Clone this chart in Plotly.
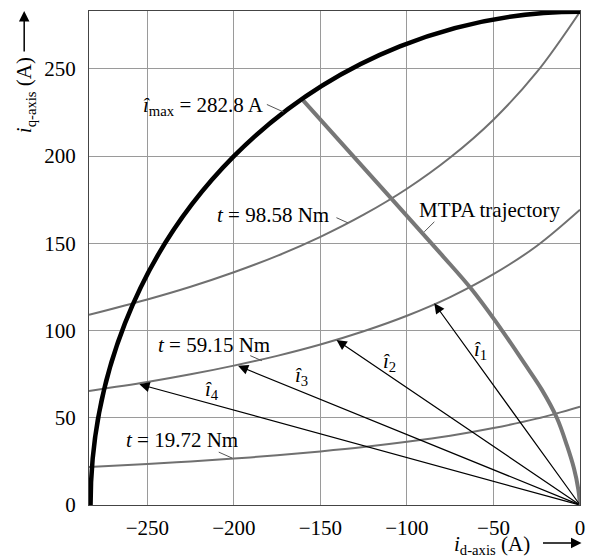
import plotly.graph_objects as go

# ---- data ----
i_max = 282.8
id_pts = [-283.7, -250, -225, -200, -175, -150, -125, -100, -75, -50, -25, 0]
iq_t98 = [109.0, 117.8, 125.1, 133.4, 142.8, 153.7, 166.4, 181.3, 199.2, 220.9, 248.1, 282.8]
iq_t59 = [65.4, 70.5, 74.9, 79.9, 85.5, 92.0, 99.6, 108.5, 119.2, 132.3, 148.5, 169.3]
iq_t20 = [21.8, 23.5, 25.0, 26.6, 28.5, 30.7, 33.2, 36.2, 39.7, 44.1, 49.5, 56.4]

mtpa_id = [0, -1.0, -3.5, -7.5, -13.4, -22.0, -32.0, -45.0, -62.5, -80.0, -108.2, -160.0]
mtpa_iq = [0, 9.0, 21.0, 34.0, 50.0, 66.0, 81.0, 100.0, 123.5, 143.5, 174.8, 232.0]

vec_id = [-84.2, -140.7, -197.6, -254.6]
vec_iq = [115.6, 94.6, 79.8, 69.2]
vec_names = ["1", "2", "3", "4"]
vec_lab_id = [-57.4, -110.1, -160.8, -212.5]
vec_lab_iq = [88.9, 82.2, 74.0, 66.0]

x_ticks = [-250, -200, -150, -100, -50, 0]
y_ticks = [0, 50, 100, 150, 200, 250]

FONT = "Liberation Serif"
FS = 21
GRAY = "#707070"

fig = go.Figure()
for ys in (iq_t98, iq_t59, iq_t20):
    fig.add_trace(go.Scatter(x=id_pts, y=ys, mode="lines",
                             line=dict(color=GRAY, width=2, shape="spline"),
                             hoverinfo="skip", showlegend=False))
fig.add_trace(go.Scatter(x=mtpa_id, y=mtpa_iq, mode="lines",
                         line=dict(color="#777777", width=4, shape="spline", smoothing=1.0),
                         hoverinfo="skip", showlegend=False))

# current limit circle
fig.add_shape(type="circle", xref="x", yref="y",
              x0=-i_max, y0=-i_max, x1=i_max, y1=i_max,
              line=dict(color="black", width=4.5), layer="above")

ann = []
# current vectors
for xi, yi in zip(vec_id, vec_iq):
    ann.append(dict(x=xi, y=yi, ax=0, ay=0, xref="x", yref="y", axref="x", ayref="y",
                    text="", showarrow=True, arrowhead=2, arrowsize=1.7, arrowwidth=1.2,
                    arrowcolor="black"))
for n, xi, yi in zip(vec_names, vec_lab_id, vec_lab_iq):
    ann.append(dict(x=xi, y=yi, xref="x", yref="y", showarrow=False,
                    text="<i>î</i><sub>%s</sub>" % n,
                    font=dict(family=FONT, size=FS, color="black")))

# leader lines: (from_x, from_y, to_x, to_y)
leaders = [(-181.8, 230.0, -171.3, 225.3),
           (-141.6, 165.1, -134.0, 161.7),
           (-83.3, 163.2, -90.0, 156.6),
           (-191.4, 86.0, -183.8, 82.7),
           (-209.6, 30.7, -201.0, 26.9)]
for fx, fy, tx, ty in leaders:
    ann.append(dict(x=tx, y=ty, ax=fx, ay=fy, xref="x", yref="y", axref="x", ayref="y",
                    text="", showarrow=True, arrowhead=0, arrowwidth=1, arrowcolor="#555555"))

labels = [
    ("<i>î</i><sub>max</sub> = 282.8 A", -181.7, 229.0, "right"),
    ("<i>t</i> = 98.58 Nm", -143.6, 166.0, "right"),
    ("MTPA trajectory", -93.9, 169.3, "left"),
    ("<i>t</i> = 59.15 Nm", -245.0, 91.7, "left"),
    ("<i>t</i> = 19.72 Nm", -263.2, 37.4, "left"),
]
for txt, xx, yy, anc in labels:
    ann.append(dict(x=xx, y=yy, xref="x", yref="y", showarrow=False, text=txt,
                    xanchor=anc, yanchor="middle",
                    font=dict(family=FONT, size=FS, color="black")))

# axis titles with arrows
ann.append(dict(x=-0.13, y=0.83, xref="paper", yref="paper", showarrow=False,
                text="<i>i</i><sub>q-axis</sub> (A)", textangle=-90,
                xanchor="center", yanchor="middle",
                font=dict(family=FONT, size=FS, color="black")))
ann.append(dict(x=-0.132, y=1.0, xref="paper", yref="paper", text="", showarrow=True,
                ax=0, ay=42, arrowhead=2, arrowsize=1.4, arrowwidth=1.5, arrowcolor="black"))
ann.append(dict(x=0.82, y=-0.08, xref="paper", yref="paper", showarrow=False,
                text="<i>i</i><sub>d-axis</sub> (A)",
                xanchor="center", yanchor="middle",
                font=dict(family=FONT, size=FS, color="black")))
ann.append(dict(x=1.003, y=-0.077, xref="paper", yref="paper", text="", showarrow=True,
                ax=-40, ay=0, arrowhead=2, arrowsize=1.4, arrowwidth=1.5, arrowcolor="black"))

axis_common = dict(showgrid=True, gridcolor="#9a9a9a", gridwidth=1, zeroline=False,
                   showline=True, mirror=True, linecolor="#444444", linewidth=1,
                   ticks="", tickfont=dict(family=FONT, size=FS, color="black"))

fig.update_layout(
    width=595, height=558,
    margin=dict(l=89, r=12, t=10, b=53),
    paper_bgcolor="white", plot_bgcolor="white",
    showlegend=False,
    annotations=ann,
    xaxis=dict(range=[-283.7, 0], tickvals=x_ticks, ticklabelstandoff=4, **axis_common),
    yaxis=dict(range=[0, 283.2], tickvals=y_ticks, ticklabelstandoff=8, **axis_common),
)

fig.write_html("out.html")
